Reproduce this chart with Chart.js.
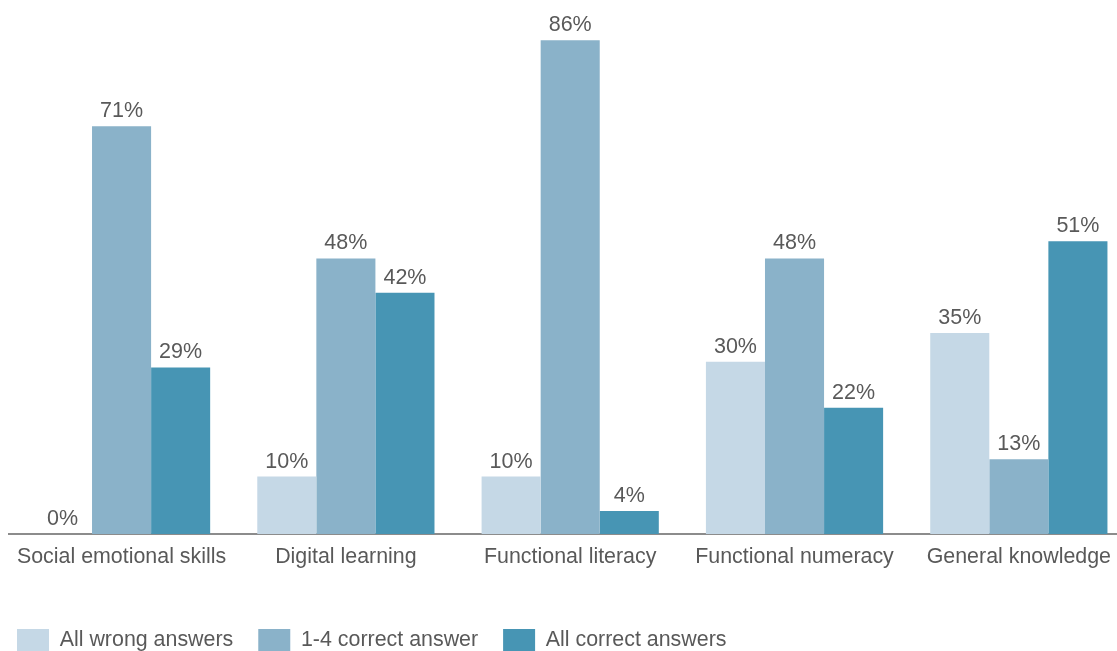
<!DOCTYPE html>
<html>
<head>
<meta charset="utf-8">
<script src="https://cdn.jsdelivr.net/npm/chart.js@4.4.0/dist/chart.umd.min.js"></script>
<style>
  html, body { margin: 0; padding: 0; background: #fff; overflow: hidden; width: 1117px; height: 651px; }
  #wrap { position: absolute; left: -8px; top: 0; width: 1139px; height: 661px; }
</style>
</head>
<body>
<div id="wrap"><canvas id="chart"></canvas></div>
<script>
  const categories = ['Social emotional skills', 'Digital learning', 'Functional literacy', 'Functional numeracy', 'General knowledge'];
  const allWrong   = [0, 10, 10, 30, 35];
  const someRight  = [71, 48, 86, 48, 13];
  const allRight   = [29, 42, 4, 22, 51];

  const TEXT = '#595959';
  const FONT = 'Liberation Sans, Arial, sans-serif';

  // value labels above each bar
  const valueLabels = {
    id: 'valueLabels',
    afterDatasetsDraw(chart) {
      const ctx = chart.ctx;
      ctx.save();
      ctx.font = '21.5px ' + FONT;
      ctx.fillStyle = TEXT;
      ctx.textAlign = 'center';
      ctx.textBaseline = 'alphabetic';
      chart.data.datasets.forEach((ds, i) => {
        chart.getDatasetMeta(i).data.forEach((bar, j) => {
          ctx.fillText(ds.data[j] + '%', bar.x, bar.y - 9);
        });
      });
      ctx.restore();
    }
  };

  new Chart(document.getElementById('chart'), {
    type: 'bar',
    data: {
      labels: categories,
      datasets: [
        { label: 'All wrong answers',   data: allWrong,  backgroundColor: '#c5d8e6' },
        { label: '1-4 correct answer',  data: someRight, backgroundColor: '#8ab2c9' },
        { label: 'All correct answers', data: allRight,  backgroundColor: '#4795b4' }
      ]
    },
    options: {
      responsive: true,
      maintainAspectRatio: false,
      animation: false,
      layout: { padding: 0 },
      datasets: { bar: { categoryPercentage: 0.79, barPercentage: 1 } },
      plugins: {
        tooltip: { enabled: false },
        legend: {
          position: 'bottom',
          align: 'start',
          labels: { boxWidth: 32, boxHeight: 22, padding: 25, color: TEXT, font: { family: FONT, size: 21.4 } }
        }
      },
      scales: {
        x: {
          grid: { display: false, drawTicks: false },
          border: { display: true, color: '#8c8c8c', width: 2 },
          ticks: { color: TEXT, padding: 10.5, font: { family: FONT, size: 21.4 }, maxRotation: 0 },
          afterFit: s => { s.height = 70; }
        },
        y: {
          min: 0, max: 93,
          grid: { display: false, drawTicks: false },
          border: { display: false },
          ticks: { display: false },
          afterFit: s => { s.width = 17.4; }
        }
      }
    },
    plugins: [valueLabels]
  });
</script>
</body>
</html>
